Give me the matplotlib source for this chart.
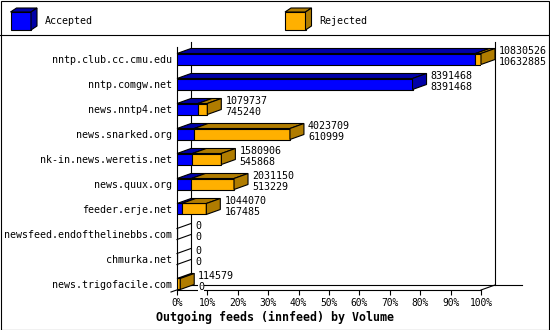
import matplotlib
matplotlib.use("Agg")
import matplotlib.pyplot as plt
from matplotlib.patches import Polygon, Rectangle
from matplotlib.lines import Line2D
from matplotlib.transforms import IdentityTransform
import numpy as np

# ---------------- data ----------------
categories = ["nntp.club.cc.cmu.edu", "nntp.comgw.net", "news.nntp4.net",
              "news.snarked.org", "nk-in.news.weretis.net", "news.quux.org",
              "feeder.erje.net", "newsfeed.endofthelinebbs.com", "chmurka.net",
              "news.trigofacile.com"]
offered = [10830526, 8391468, 1079737, 4023709, 1580906, 2031150, 1044070, 0, 0, 114579]
accepted = [10632885, 8391468, 745240, 610999, 545868, 513229, 167485, 0, 0, 0]
x_ticks = [0, 10, 20, 30, 40, 50, 60, 70, 80, 90, 100]
x_tick_labels = ["0%", "10%", "20%", "30%", "40%", "50%", "60%", "70%", "80%", "90%", "100%"]
series_names = ["Accepted", "Rejected"]
title = "Outgoing feeds (innfeed) by Volume"

# ---------------- style ----------------
W, H = 550, 330
BLUE, BLUE_D = "#0000ff", "#0000a8"
ORANGE, ORANGE_D = "#ffb000", "#b07c00"
DX, DY = 14, 5          # 3-D depth in pixels
FS = 7.2
LW = 0.8
plt.rcParams['font.family'] = ['DejaVu Sans Mono']

fig = plt.figure(figsize=(W / 100, H / 100), dpi=100)
fig.patch.set_facecolor('white')
ax = fig.add_axes([177 / W, 1 - 290 / H, 304 / W, 243 / H])
YBOT, YTOP = 9.24, -0.48
ax.set_xlim(0, 100)
ax.set_ylim(YBOT, YTOP)
ax.patch.set_visible(False)
for s in ['top', 'right']:
    ax.spines[s].set_visible(False)
for s in ['left', 'bottom']:
    ax.spines[s].set_linewidth(LW)
    ax.spines[s].set_zorder(2)

ID = IdentityTransform()


def disp(x, y, back=False, ox=0.0, oy=0.0):
    px, py = ax.transData.transform((x, y))
    if back:
        px += DX
        py += DY
    return (px + ox, py + oy)


def line(p, q, z=1):
    ax.add_line(Line2D([p[0], q[0]], [p[1], q[1]], transform=ID, color='black',
                       linewidth=LW, zorder=z, clip_on=False))


def poly(pts, fc, z=4):
    ax.add_patch(Polygon(pts, closed=True, transform=ID, facecolor=fc,
                         edgecolor='black', linewidth=LW, zorder=z, clip_on=False,
                         joinstyle='miter'))


# back wall
line(disp(0, YBOT, True), disp(0, YTOP, True))
line(disp(100, YBOT, True), disp(100, YTOP, True))
line(disp(0, YBOT, True), disp(109, YBOT, True))
line(disp(100, YBOT), disp(100, YBOT, True))
line(disp(0, YBOT, ox=-6, oy=-2), disp(0, YBOT, True))

# bars
ypos = np.arange(len(categories))
scale = max(offered)
acc_pct = np.array(accepted) / scale * 100
rej_pct = (np.array(offered) - np.array(accepted)) / scale * 100
tot_pct = acc_pct + rej_pct
h = 0.44

ax.barh(ypos, acc_pct, height=h, color=BLUE, edgecolor='black', linewidth=LW, zorder=3)
ax.barh(ypos, rej_pct, left=acc_pct, height=h, color=ORANGE, edgecolor='black',
        linewidth=LW, zorder=3)

for i in range(len(categories)):
    yt, yb = i - h / 2, i + h / 2
    tot = tot_pct[i]
    if tot <= 0:
        line(disp(0, yt), disp(0, yt, True), z=4)
        line(disp(0, yb), disp(0, yb, True), z=4)
    else:
        segs = [(0, acc_pct[i], BLUE_D), (acc_pct[i], tot, ORANGE_D)]
        last = None
        for x0, x1, c in segs:
            if x1 - x0 <= 0:
                continue
            poly([disp(x0, yt), disp(x1, yt), disp(x1, yt, True), disp(x0, yt, True)], c)
            last = c
        poly([disp(tot, yt), disp(tot, yb), disp(tot, yb, True), disp(tot, yt, True)], last)
    bb = dict(facecolor='white', edgecolor='none', pad=0)
    ax.annotate(f"{offered[i]}", xy=(tot, i), xytext=(18, 8), textcoords='offset pixels',
                ha='left', va='center', fontsize=FS, bbox=bb, zorder=5, annotation_clip=False)
    ax.annotate(f"{accepted[i]}", xy=(tot, i), xytext=(18, -3), textcoords='offset pixels',
                ha='left', va='center', fontsize=FS, bbox=bb, zorder=5, annotation_clip=False)

ax.set_yticks(ypos, categories)
ax.tick_params(axis='y', length=0, pad=3.6, labelsize=FS)
ax.set_xticks(x_ticks, x_tick_labels)
ax.tick_params(axis='x', length=3.6, width=LW, pad=2.5, labelsize=FS * 0.96, direction='out')

# title
fig.text(274.5 / W, 1 - 317 / H, title, ha='center', va='center', fontsize=8.4,
         fontweight='bold')


# legend (figure pixel coordinates, origin top-left)
def fp(x, y):
    return (x, H - y)


def legend_box(x0, front, dark, label):
    x1 = x0 + 20.5
    fig.add_artist(Polygon([fp(x0, 12), fp(x1, 12), fp(x1, 30), fp(x0, 30)], transform=ID,
                           facecolor=front, edgecolor='black', linewidth=LW))
    fig.add_artist(Polygon([fp(x0, 12), fp(x1, 12), fp(x1 + 6, 8), fp(x0 + 6, 8)], transform=ID,
                           facecolor=dark, edgecolor='black', linewidth=LW))
    fig.add_artist(Polygon([fp(x1, 12), fp(x1 + 6, 8), fp(x1 + 6, 26), fp(x1, 30)], transform=ID,
                           facecolor=dark, edgecolor='black', linewidth=LW))
    fig.text((x1 + 14) / W, 1 - 21 / H, label, ha='left', va='center', fontsize=FS)


legend_box(10.5, BLUE, BLUE_D, series_names[0])
legend_box(285, ORANGE, ORANGE_D, series_names[1])

# frame and separator
fig.add_artist(Rectangle((0.5, 0.5), 548, 329, transform=ID, fill=False,
                         edgecolor='black', linewidth=LW))
fig.add_artist(Line2D([0, 549], [H - 34.5, H - 34.5], transform=ID, color='black',
                      linewidth=LW))

fig.savefig("out.png", dpi=100, facecolor='white')
